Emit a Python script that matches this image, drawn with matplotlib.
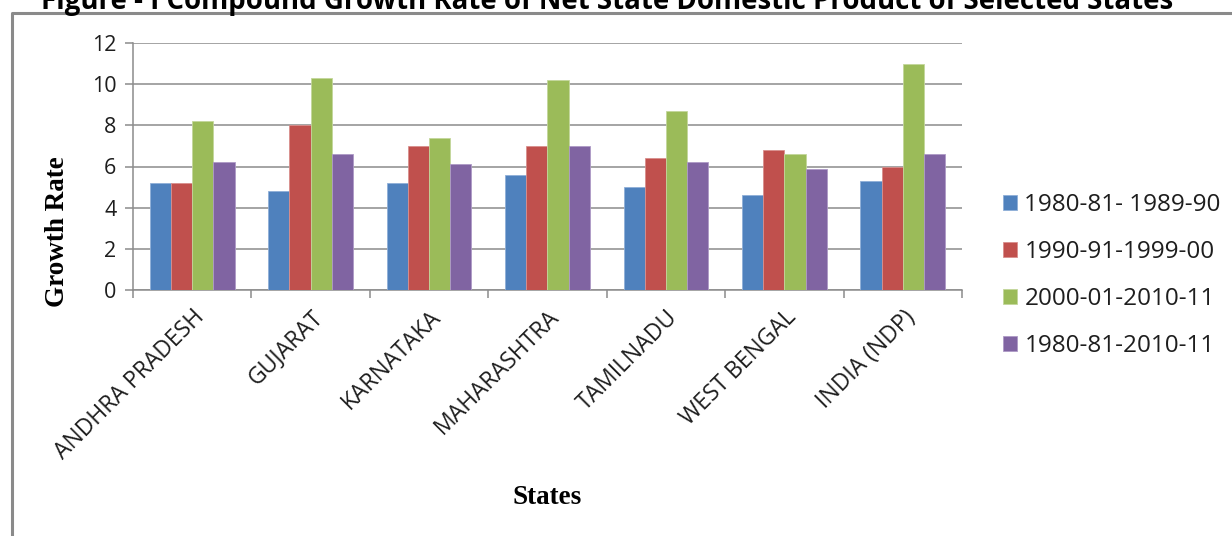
import matplotlib
matplotlib.use("Agg")
import matplotlib.pyplot as plt
import numpy as np
from matplotlib.lines import Line2D
from matplotlib.patches import Patch

states = ["ANDHRA PRADESH", "GUJARAT", "KARNATAKA", "MAHARASHTRA",
          "TAMILNADU", "WEST BENGAL", "INDIA (NDP)"]
periods = ["1980-81- 1989-90", "1990-91-1999-00", "2000-01-2010-11", "1980-81-2010-11"]
s1980_90 = [5.2, 4.8, 5.2, 5.6, 5.0, 4.6, 5.3]
s1990_00 = [5.2, 8.0, 7.0, 7.0, 6.4, 6.8, 6.0]
s2000_11 = [8.2, 10.3, 7.4, 10.2, 8.7, 6.6, 11.0]
s1980_11 = [6.2, 6.6, 6.1, 7.0, 6.2, 5.9, 6.6]
series = [s1980_90, s1990_00, s2000_11, s1980_11]
colors = ["#4F81BD", "#C0504D", "#9BBB59", "#8064A2"]
edge_colors = ["#8FAFD8", "#D98F8D", "#C3D79B", "#AE9AC6"]
yticks = [0, 2, 4, 6, 8, 10, 12]
title = "Figure - I Compound Growth Rate of Net State Domestic Product of Selected States"

W, H = 1232, 536
fig = plt.figure(figsize=(W / 100, H / 100), dpi=100)
fig.patch.set_facecolor("white")

ax_l, ax_r, ax_t, ax_b = 133, 962, 43, 290
ax = fig.add_axes([ax_l / W, 1 - ax_b / H, (ax_r - ax_l) / W, (ax_b - ax_t) / H])

sans = "Open Sans"
serif = "Liberation Serif"
grid_c = "#8C8C8C"
txt_c = "#1E1E1E"

n = len(states)
x = np.arange(n)
bw = 0.179
for j, (vals, c, ec) in enumerate(zip(series, colors, edge_colors)):
    ax.bar(x + (j - 1.5) * bw, vals, width=bw, color=c, edgecolor=ec,
           linewidth=0.6, label=periods[j], zorder=3)

ax.set_xlim(-0.5, n - 0.5)
ax.set_ylim(0, 12)
ax.set_yticks(yticks)
ax.set_yticklabels([str(v) for v in yticks], fontfamily=sans, fontsize=15.5, color=txt_c)
ax.yaxis.grid(True, color=grid_c, linewidth=1.1, zorder=0)
ax.set_axisbelow(True)

ax.set_xticks(x)
ax.set_xticklabels(states, rotation=45, ha="right", va="top", rotation_mode="anchor",
                   fontfamily=sans, fontsize=16.5, color=txt_c)
ax.set_xticks(np.arange(n + 1) - 0.5, minor=True)
ax.tick_params(axis="x", which="major", length=0, pad=11)
ax.tick_params(axis="x", which="minor", length=6, color=grid_c, width=1.1, direction="out")
ax.tick_params(axis="y", length=6, color=grid_c, width=1.1, pad=6)

for s in ["top", "right"]:
    ax.spines[s].set_visible(False)
for s in ["left", "bottom"]:
    ax.spines[s].set_color(grid_c)
    ax.spines[s].set_linewidth(1.1)

ax.set_ylabel("Growth Rate", fontfamily=serif, fontweight="bold", fontsize=19.5, va="center")
ax.yaxis.set_label_coords((58 - ax_l) / (ax_r - ax_l), (ax_b - 232) / (ax_b - ax_t))
ax.set_xlabel("States", fontfamily=serif, fontweight="bold", fontsize=19.5, va="center")
ax.xaxis.set_label_coords(0.5, (ax_b - 497) / (ax_b - ax_t))

handles = [Patch(facecolor=c, edgecolor=ec, linewidth=0.6) for c, ec in zip(colors, edge_colors)]
leg = fig.legend(handles, periods, loc="upper left",
                 bbox_to_anchor=(1003 / W, 1 - 193 / H), frameon=False,
                 prop={"family": sans, "size": 17.5}, handlelength=0.58, handleheight=0.58,
                 handletextpad=0.3, labelspacing=0.95, borderpad=0, borderaxespad=0)
for t in leg.get_texts():
    t.set_color(txt_c)

# border
fig.add_artist(Line2D([12 / W, 12 / W, 1.0], [0.0, 1 - 13 / H, 1 - 13 / H],
                      transform=fig.transFigure, color="#8A8A8A", linewidth=2.2))

# title (cut at top, as in the reference)
tt = fig.text(607 / W, 1 - 9 / H, title, ha="center", va="baseline",
              fontfamily=sans, fontweight="bold", fontsize=18, color="black")
fig.canvas.draw()
wpx = tt.get_window_extent().width
tt.set_fontsize(18 * 1135 / wpx)

fig.savefig("out.png", dpi=100, facecolor="white")
